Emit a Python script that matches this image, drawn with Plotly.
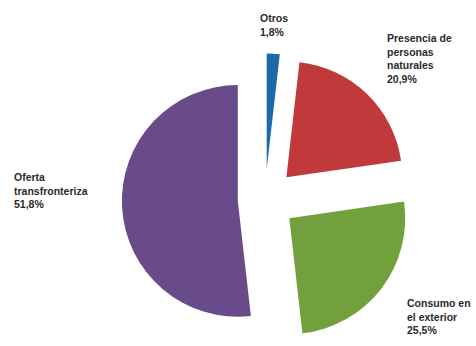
import plotly.graph_objects as go

labels = ["Otros", "Presencia de personas naturales", "Consumo en el exterior", "Oferta transfronteriza"]
values = [1.8, 20.9, 25.5, 51.8]
colors = ["#1d6aa8", "#c03a3c", "#72a03c", "#6a4b8a"]
pulls = [0.26, 0.265, 0.265, 0.235]
label_texts = ["Otros<br>1,8%", "Presencia de<br>personas<br>naturales<br>20,9%",
               "Consumo en<br>el exterior<br>25,5%", "Oferta<br>transfronteriza<br>51,8%"]

W, H = 476, 346
R = 116
half = R * (1 + max(pulls))
cx, cy = 265, 199.5

fig = go.Figure(go.Pie(
    labels=labels, values=values, sort=False, direction="clockwise", rotation=0,
    marker=dict(colors=colors, line=dict(width=0)),
    pull=pulls, textinfo="none", hoverinfo="label+percent", showlegend=False,
    domain=dict(x=[max(0, (cx - half) / W), min(1, (cx + half) / W)],
                y=[max(0, (H - cy - half) / H), min(1, (H - cy + half) / H)]),
))

ann_pos = [(258, 10), (385, 30), (405, 295), (12, 169)]
for txt, (x, y) in zip(label_texts, ann_pos):
    fig.add_annotation(text=txt, x=x / W, y=1 - y / H, xref="paper", yref="paper",
                       xanchor="left", yanchor="top", align="left", showarrow=False,
                       font=dict(family="Liberation Sans, Arial", size=10.5, color="#2a2a2a", weight="bold"))

fig.update_layout(width=W, height=H, margin=dict(l=0, r=0, t=0, b=0),
                  paper_bgcolor="white", plot_bgcolor="white")
fig.write_html("out.html")
